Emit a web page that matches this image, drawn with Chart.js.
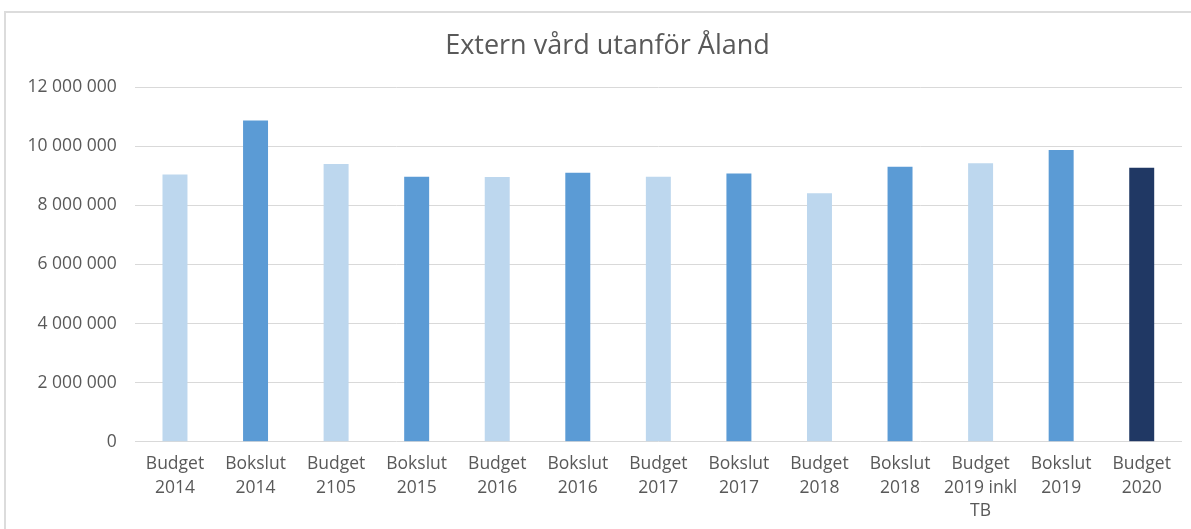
<!DOCTYPE html>
<html>
<head>
<meta charset="utf-8">
<script src="https://cdn.jsdelivr.net/npm/chart.js@4"></script>
<style>
  html, body { margin: 0; padding: 0; background: #ffffff; overflow: hidden; }
  #wrap { position: relative; width: 1191px; height: 529px; }
  #frame { position: absolute; left: 4px; top: 11px; width: 1200px; height: 540px; border: 2px solid #dcdcdc; box-sizing: border-box; }
  canvas { position: absolute; left: 0; top: 0; }
</style>
</head>
<body>
<div id="wrap">
  <div id="frame"></div>
  <canvas id="c" width="1191" height="529"></canvas>
</div>
<script>
const chartTitle = "Extern vård utanför Åland";
const categories = [
  ["Budget", "2014"],
  ["Bokslut", "2014"],
  ["Budget", "2105"],
  ["Bokslut", "2015"],
  ["Budget", "2016"],
  ["Bokslut", "2016"],
  ["Budget", "2017"],
  ["Bokslut", "2017"],
  ["Budget", "2018"],
  ["Bokslut", "2018"],
  ["Budget", "2019 inkl", "TB"],
  ["Bokslut", "2019"],
  ["Budget", "2020"]
];
const values = [
  9050000, 10880000, 9400000, 8970000, 8960000, 9110000, 8970000,
  9080000, 8410000, 9310000, 9430000, 9880000, 9280000
];
const yTicks = [0, 2000000, 4000000, 6000000, 8000000, 10000000, 12000000];

const barColors = [
  "#BDD7EE", "#5B9BD5", "#BDD7EE", "#5B9BD5", "#BDD7EE", "#5B9BD5", "#BDD7EE",
  "#5B9BD5", "#BDD7EE", "#5B9BD5", "#BDD7EE", "#5B9BD5", "#203864"
];

const fmt = v => String(v).replace(/\B(?=(\d{3})+(?!\d))/g, " ");
const FONT = "'Open Sans', 'DejaVu Sans', sans-serif";
const TXT = "#595959";

const titlePlugin = {
  id: "excelTitle",
  afterDraw(chart) {
    const ctx = chart.ctx;
    ctx.save();
    ctx.font = "27px " + FONT;
    ctx.fillStyle = TXT;
    ctx.textAlign = "center";
    ctx.textBaseline = "alphabetic";
    ctx.fillText(chartTitle, 607.5, 53.5);
    ctx.restore();
  }
};

new Chart(document.getElementById("c"), {
  type: "bar",
  data: {
    labels: categories,
    datasets: [{
      data: values,
      backgroundColor: barColors,
      borderWidth: 0,
      barPercentage: 0.31,
      categoryPercentage: 1.0
    }]
  },
  plugins: [titlePlugin],
  options: {
    responsive: false,
    animation: false,
    devicePixelRatio: 1,
    layout: { padding: { left: 0, right: 9, top: 87.3, bottom: 0 } },
    plugins: {
      legend: { display: false },
      tooltip: { enabled: false },
      title: { display: false }
    },
    scales: {
      x: {
        grid: { display: false, drawTicks: false },
        border: { display: false },
        ticks: {
          color: TXT,
          font: { family: FONT, size: 17.5, lineHeight: 1.34 },
          padding: 11,
          maxRotation: 0,
          autoSkip: false
        },
        afterFit: s => { s.height = 87.3; }
      },
      y: {
        min: 0,
        max: 12000000,
        afterBuildTicks: s => { s.ticks = yTicks.map(v => ({ value: v })); },
        grid: { color: "#d9d9d9", lineWidth: 1, drawTicks: false },
        border: { display: false },
        ticks: {
          color: TXT,
          font: { family: FONT, size: 17.5 },
          padding: 18,
          callback: v => fmt(v)
        },
        afterFit: s => { s.width = 134.7; }
      }
    }
  }
});
</script>
</body>
</html>
